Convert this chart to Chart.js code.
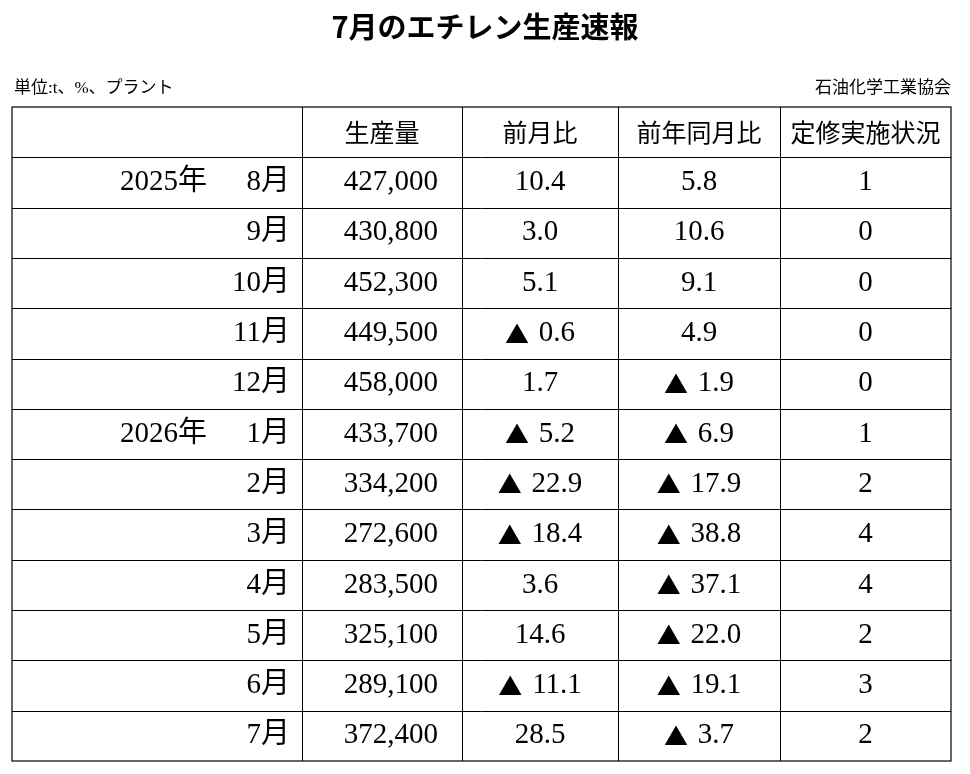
<!DOCTYPE html>
<html>
<head>
<meta charset="utf-8">
<script src="https://cdn.jsdelivr.net/npm/chart.js@4"></script>
<style>
  body { margin: 0; background: #fff; }
  #wrap { width: 970px; height: 774px; }
</style>
</head>
<body>
<div id="wrap"><canvas id="myChart"></canvas></div>
<script>
// table data
var years = ['2025年', '', '', '', '', '2026年', '', '', '', '', '', ''];
var months = ['8月', '9月', '10月', '11月', '12月', '1月', '2月', '3月', '4月', '5月', '6月', '7月'];
var production = [427000, 430800, 452300, 449500, 458000, 433700, 334200, 272600, 283500, 325100, 289100, 372400];
var momChange = [10.4, 3.0, 5.1, -0.6, 1.7, -5.2, -22.9, -18.4, 3.6, 14.6, -11.1, 28.5];
var yoyChange = [5.8, 10.6, 9.1, 4.9, -1.9, -6.9, -17.9, -38.8, -37.1, -22.0, -19.1, -3.7];
var maintenance = [1, 0, 0, 0, 0, 1, 2, 4, 4, 2, 3, 2];
var headers = ['', '生産量', '前月比', '前年同月比', '定修実施状況'];
var colEdges = [0, 290, 450, 606, 768, 939];

var serif = '"Liberation Serif", "Noto Sans CJK JP", serif';
var numFont = '29px ' + serif;
var triFont = '24px "Noto Sans CJK JP"';
var rowLabels = ['header'].concat(months);

// draw a percentage centred at cx, with a full-width triangle for negatives
function drawPct(ctx, v, cx, y) {
  var num = Math.abs(v).toFixed(1);
  ctx.font = numFont;
  var wn = ctx.measureText(num).width;
  if (v >= 0) {
    ctx.textAlign = 'center';
    ctx.fillText(num, cx, y);
    return;
  }
  ctx.font = triFont;
  var wt = ctx.measureText('▲').width;
  var gap = 10;
  var x0 = cx - (wt + gap + wn) / 2;
  ctx.textAlign = 'left';
  ctx.fillText('▲', x0, y);
  ctx.font = numFont;
  ctx.fillText(num, x0 + wt + gap, y);
}

var tablePlugin = {
  id: 'table',
  afterDraw: function (chart) {
    var ctx = chart.ctx;
    var xs = chart.scales.x, ys = chart.scales.y;
    var a = chart.chartArea;
    var rowH = (a.bottom - a.top) / rowLabels.length;
    var X = colEdges.map(function (e) { return xs.getPixelForValue(e); });
    ctx.save();
    ctx.fillStyle = '#fff';
    ctx.fillRect(0, 0, chart.width, chart.height);

    // title and notes
    ctx.fillStyle = '#000';
    ctx.textBaseline = 'middle';
    ctx.textAlign = 'center';
    ctx.font = 'bold 29px "Noto Sans CJK JP"';
    ctx.fillText('7月のエチレン生産速報', chart.width / 2, 27);
    ctx.font = '17px ' + serif;
    ctx.textAlign = 'left';
    ctx.fillText('単位:t、%、プラント', 14, 89);
    ctx.textAlign = 'right';
    ctx.fillText('石油化学工業協会', X[5], 89);

    // grid
    ctx.strokeStyle = '#000';
    ctx.lineWidth = 1.2;
    ctx.strokeRect(a.left, a.top, a.right - a.left, a.bottom - a.top);
    ctx.lineWidth = 1;
    for (var i = 1; i < rowLabels.length; i++) {
      var yl = Math.round(a.top + i * rowH) + 0.5;
      ctx.beginPath(); ctx.moveTo(a.left, yl); ctx.lineTo(a.right, yl); ctx.stroke();
    }
    for (var c = 1; c < X.length - 1; c++) {
      var xl = Math.round(X[c]) + 0.5;
      ctx.beginPath(); ctx.moveTo(xl, a.top); ctx.lineTo(xl, a.bottom); ctx.stroke();
    }

    // header
    ctx.font = '25px "Noto Sans CJK JP"';
    ctx.textAlign = 'center';
    var hy = ys.getPixelForValue(0);
    headers.forEach(function (h, c) {
      if (h) ctx.fillText(h, (X[c] + X[c + 1]) / 2, hy);
    });

    // rows
    months.forEach(function (m, r) {
      var y = ys.getPixelForValue(r + 1);
      ctx.font = numFont;
      ctx.textAlign = 'right';
      ctx.fillText(m, X[1] - 12, y);
      if (years[r]) {
        ctx.textAlign = 'left';
        ctx.fillText(years[r], X[0] + 108, y);
      }
      ctx.textAlign = 'right';
      ctx.fillText(production[r].toLocaleString('en-US'), X[2] - 24, y);
      drawPct(ctx, momChange[r], (X[2] + X[3]) / 2, y);
      drawPct(ctx, yoyChange[r], (X[3] + X[4]) / 2, y);
      ctx.font = numFont;
      ctx.textAlign = 'center';
      ctx.fillText(String(maintenance[r]), (X[4] + X[5]) / 2, y);
    });
    ctx.restore();
  }
};

var ctx = document.getElementById('myChart').getContext('2d');
var myChart = new Chart(ctx, {
  type: 'scatter',
  data: {
    labels: rowLabels,
    datasets: [{ data: [], pointRadius: 0 }]
  },
  options: {
    responsive: true,
    maintainAspectRatio: false,
    animation: false,
    layout: { padding: { left: 12, top: 107, right: 19, bottom: 13 } },
    plugins: { legend: { display: false }, tooltip: { enabled: false } },
    scales: {
      x: { type: 'linear', min: colEdges[0], max: colEdges[colEdges.length - 1], display: false },
      y: { type: 'category', labels: rowLabels, offset: true, display: false }
    }
  },
  plugins: [tablePlugin]
});
</script>
</body>
</html>
